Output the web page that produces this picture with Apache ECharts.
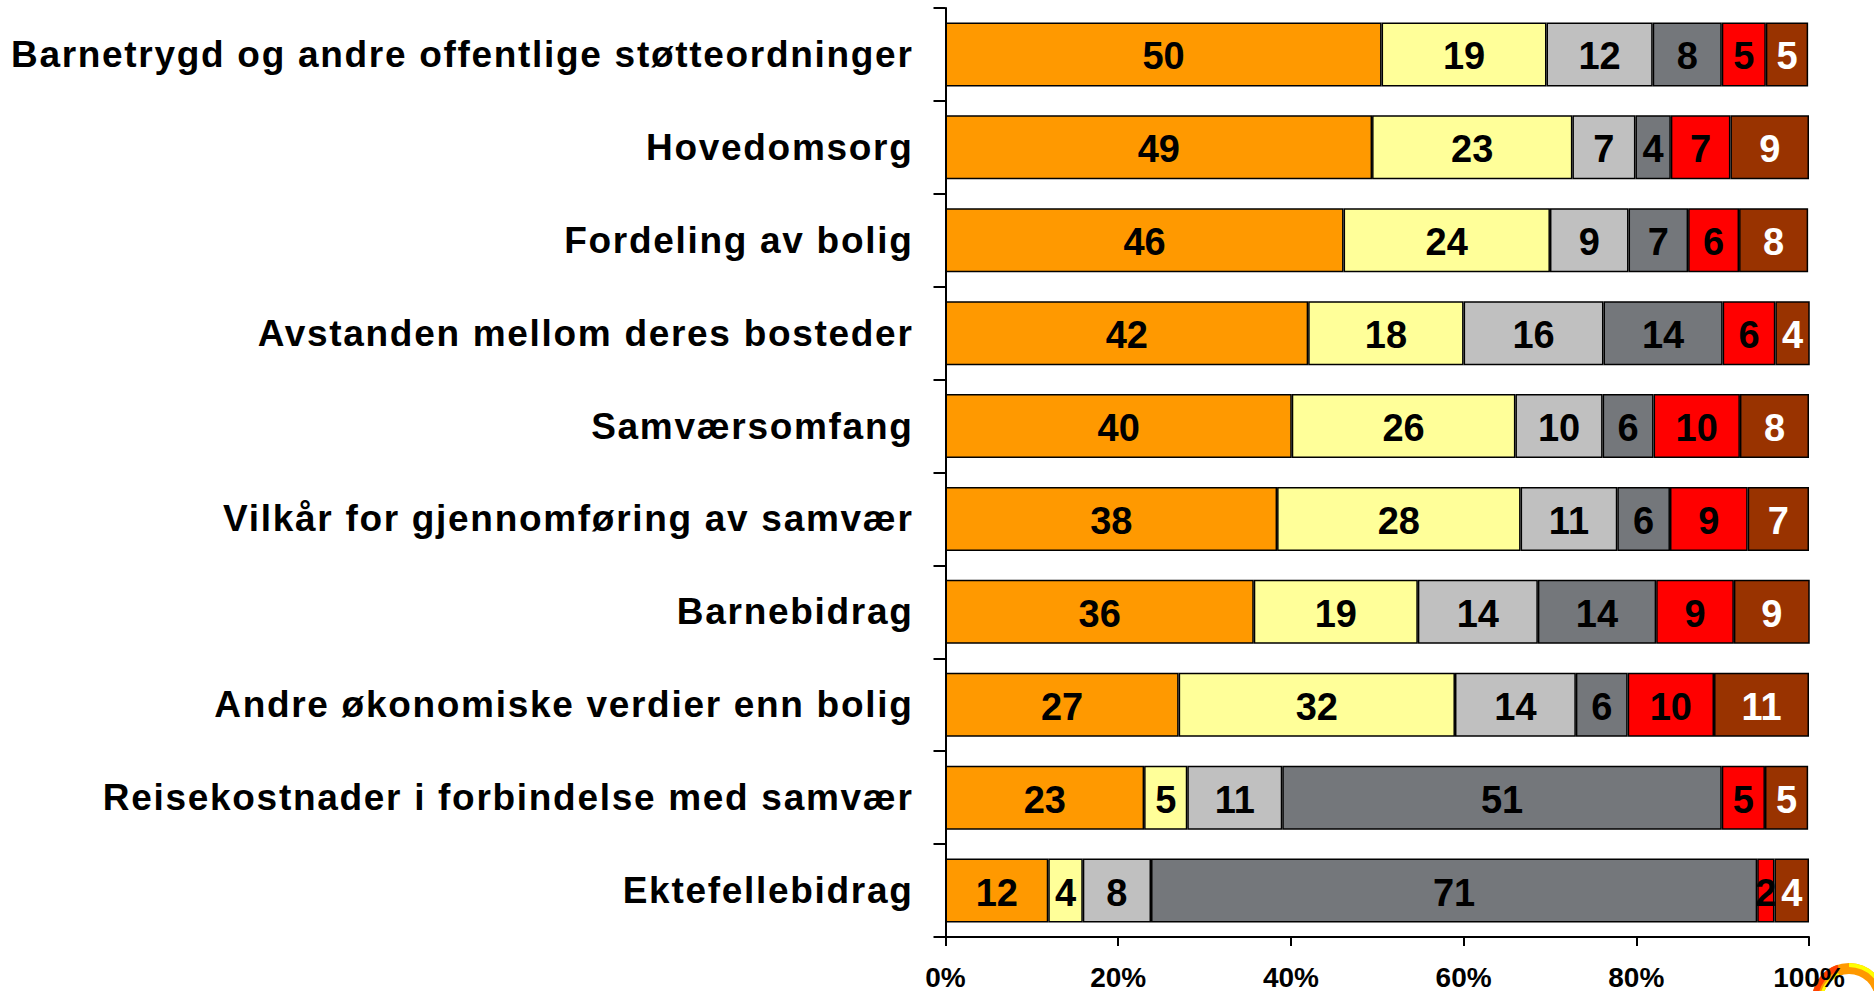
<!DOCTYPE html>
<html><head><meta charset="utf-8">
<style>html,body{margin:0;padding:0;background:#fff}#c{width:1874px;height:991px}
text[style*="37px"]{letter-spacing:1.7px}</style>
<script src="https://cdn.jsdelivr.net/npm/echarts@6/dist/echarts.min.js"></script>
</head><body><div id="c"></div>
<script>
const categories = ["Barnetrygd og andre offentlige støtteordninger","Hovedomsorg","Fordeling av bolig","Avstanden mellom deres bosteder","Samværsomfang","Vilkår for gjennomføring av samvær","Barnebidrag","Andre økonomiske verdier enn bolig","Reisekostnader i forbindelse med samvær","Ektefellebidrag"];
const s1 = [50.5,49.4,46.1,42,40.1,38.4,35.7,27,23,11.9];
const s2 = [19.1,23.2,23.9,18,25.9,28.2,19,32,5,4];
const s3 = [12.3,7.3,9.1,16.2,10.1,11.2,13.9,14,11,7.9];
const s4 = [8,4.1,6.9,13.8,5.9,6.1,13.7,6,50.9,70.2];
const s5 = [5.1,6.9,5.9,6.1,10,9,9,10,5,2];
const s6 = [4.9,9.1,8,4,8,7.1,8.9,11,5,4];
const labels1 = [50,49,46,42,40,38,36,27,23,12];
const labels2 = [19,23,24,18,26,28,19,32,5,4];
const labels3 = [12,7,9,16,10,11,14,14,11,8];
const labels4 = [8,4,7,14,6,6,14,6,51,71];
const labels5 = [5,7,6,6,10,9,9,10,5,2];
const labels6 = [5,9,8,4,8,7,9,11,5,4];
const colors = ["#ff9900","#ffff99","#c0c0c0","#74777b","#ff0000","#993300"];
const font = "'Liberation Sans', Arial, sans-serif";
const mk = (vals, labs, color, textColor) => ({
  type:'bar', stack:'a', barWidth:64, data:vals,
  itemStyle:{color, borderColor:'#000', borderWidth:1.5},
  label:{show:true, position:'inside', offset:[0,2], color:textColor, fontFamily:font, fontWeight:'bold', fontSize:38,
    formatter:p=>labs[p.dataIndex]}
});
const arc = (r, r0, a0, a1, color) => ({type:'sector', silent:true, z:-1,
  shape:{cx:1849, cy:1000, r, r0, startAngle:Math.PI*a0, endAngle:Math.PI*a1},
  style:{fill:color}});
const chart = echarts.init(document.getElementById('c'), null, {renderer:'svg'});
chart.setOption({
  animation:false,
  grid:{left:945.5, right:65, top:8, bottom:54, containLabel:false},
  xAxis:{type:'value', min:0, max:100, interval:20, splitLine:{show:false},
    axisLine:{show:true, lineStyle:{color:'#000', width:2}},
    axisTick:{show:true, length:9, lineStyle:{color:'#000', width:2}},
    axisLabel:{formatter:'{value}%', color:'#000', fontFamily:font, fontWeight:'bold', fontSize:28, margin:26, hideOverlap:false}},
  yAxis:{type:'category', inverse:true, data:categories,
    axisLine:{show:true, onZero:false, lineStyle:{color:'#000', width:2}},
    axisTick:{show:true, length:12, lineStyle:{color:'#000', width:2}},
    axisLabel:{color:'#000', fontFamily:font, fontWeight:'bold', fontSize:37, margin:32, interval:0, lineHeight:44, padding:[10,0,0,0]}},
  series:[mk(s1,labels1,colors[0],'#000'),mk(s2,labels2,colors[1],'#000'),mk(s3,labels3,colors[2],'#000'),
    mk(s4,labels4,colors[3],'#000'),mk(s5,labels5,colors[4],'#000'),mk(s6,labels6,colors[5],'#fff')],
  graphic:[
    arc(37,26,1,2,'#ff9900'),
    arc(37,31,1,1.4,'#ff4000'),
    arc(29,26,1,1.38,'#ffff00'),
    arc(37,33,1.5,2,'#ffff00')
  ]
});
</script></body></html>
